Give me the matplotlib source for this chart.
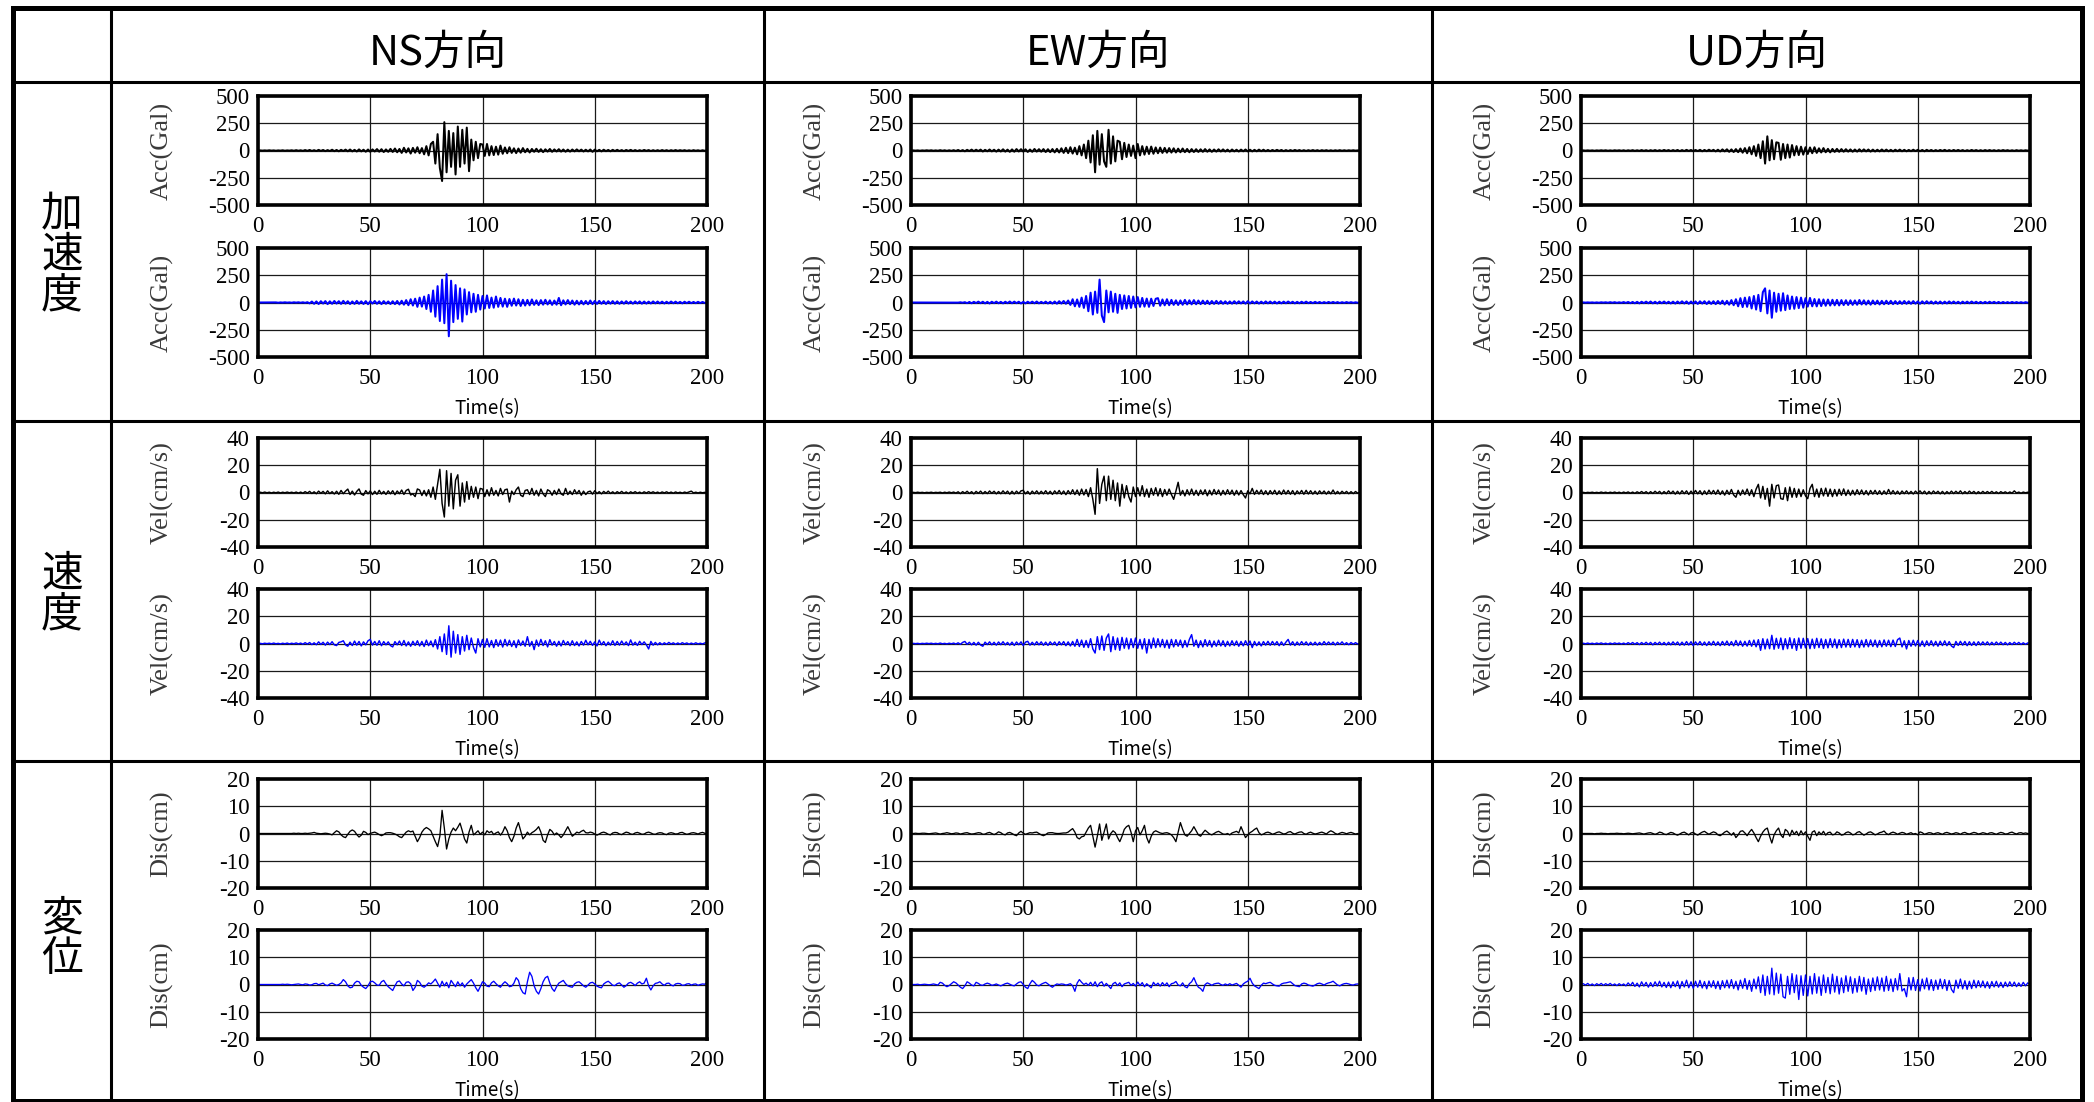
import numpy as np
import matplotlib
matplotlib.use("Agg")
import matplotlib.pyplot as plt
from matplotlib.lines import Line2D

plt.rcParams["axes.unicode_minus"] = False

# ---------------- data (sampled every 1 s, 0..200 s) ----------------
time_s = np.arange(0, 201)

directions = ["NS方向", "EW方向", "UD方向"]
quantities = ["加速度", "速度", "変位"]
ylabels = ["Acc(Gal)", "Vel(cm/s)", "Dis(cm)"]
ylims = [500, 40, 20]
yticks = [[-500, -250, 0, 250, 500], [-40, -20, 0, 20, 40], [-20, -10, 0, 10, 20]]
xticks = [0, 50, 100, 150, 200]
xlabel = "Time(s)"

acc_ns_obs = [0,1,-1,1,-1,2,-1,1,-2,1,-1,2,-2,1,-1,2,-2,3,-2,2,
    -3,4,-3,5,-4,3,-5,6,-4,5,-6,4,-5,7,-6,5,-7,6,-5,8,
    -7,9,-8,6,-9,10,-8,7,-11,9,-12,10,-9,13,-11,12,-14,10,-12,15,
    -13,18,-16,14,-22,25,-18,20,-28,24,-20,30,-25,22,-35,40,-45,60,80,-120,
    150,-160,-280,260,-200,180,-150,160,-220,220,-150,190,-120,210,-190,100,-90,80,-70,60,
    55,-50,60,-45,40,-42,35,-38,45,-30,28,-25,30,-22,20,-24,18,-20,22,-16,
    15,-18,14,-12,16,-13,12,-15,11,-10,14,-12,10,-9,12,-10,9,-11,8,-10,
    9,-8,10,-7,8,-9,7,-8,9,-12,8,-7,6,-8,7,-6,5,-7,6,-5,
    6,-5,4,-6,5,-4,6,-5,4,-5,3,-4,5,-3,4,-5,3,-4,3,-4,
    4,-3,3,-4,3,-3,4,-3,3,-2,3,-3,2,-3,3,-2,2,-3,2,-2,
    0]
acc_ns_sim = [0,0,1,-1,1,-1,1,-1,1,-2,1,-1,2,-1,1,-2,2,-1,2,-2,
    2,-3,3,-8,9,-12,10,-14,12,-10,13,-15,11,-12,14,-10,12,-13,15,-11,
    12,-14,10,-13,15,-12,11,-14,13,-16,12,-10,14,-12,11,-15,13,-12,10,-14,
    12,-15,14,-18,16,-20,22,-25,30,-28,35,-40,45,-38,55,-60,70,-85,110,-130,
    150,-170,210,-190,260,-310,200,-180,160,-150,130,-175,120,-110,95,-90,80,-85,70,-65,
    60,-55,65,-50,45,-48,55,-40,42,-38,35,-40,32,-30,36,-28,30,-32,25,-28,
    24,-26,28,-22,20,-24,22,-20,25,-18,20,-22,18,-20,42,-25,20,-18,22,-16,
    18,-20,16,-18,15,-17,14,-16,18,-15,14,-13,15,-12,13,-14,12,-11,13,-12,
    11,-12,10,-11,12,-10,9,-11,10,-9,10,-11,9,-10,8,-9,10,-8,9,-8,
    8,-9,7,-8,9,-7,8,-7,6,-8,7,-6,7,-6,5,-6,6,-5,5,-4,
    0]
acc_ew_obs = [0,1,-1,1,-2,1,-1,2,-1,2,-2,1,-2,3,-2,2,-3,2,-3,3,
    -4,5,-6,4,-7,6,-5,8,-6,7,-5,8,-9,6,-7,9,-8,7,-10,8,
    -9,11,-10,8,-12,10,-11,13,-9,12,-10,11,-13,9,-12,14,-10,12,-11,13,
    -14,12,-15,13,-17,15,-18,20,-22,25,-24,30,-28,26,-35,40,-45,55,-70,90,
    -110,140,-200,180,-130,150,-100,-150,190,-120,130,-100,90,80,-80,70,-60,55,-50,45,
    -70,60,-45,40,-38,35,-32,36,-30,28,-25,27,-22,24,-20,22,-19,20,-18,17,
    -16,18,-15,14,-16,13,-14,12,-13,11,-12,13,-11,10,-12,9,-10,11,-9,10,
    -9,8,-10,9,-8,7,-9,8,-7,9,-8,7,-8,6,-7,8,-6,7,-6,5,
    -6,5,-5,6,-4,5,-6,4,-5,4,-4,5,-3,4,-4,3,-4,3,-3,4,
    -3,3,-4,3,-2,3,-3,2,-3,2,-2,3,-2,2,-2,2,-1,2,-1,1,
    0]
acc_ew_sim = [0,0,1,-1,0,1,-1,1,-1,0,1,-1,1,-1,1,-1,1,-1,1,-1,
    1,-1,2,-2,3,-6,5,-7,6,-5,8,-6,7,-8,6,-9,7,-6,8,-7,
    6,-8,7,-6,9,-7,8,-6,7,-9,6,-8,7,-6,8,-7,9,-8,6,-7,
    8,-9,7,-10,9,-11,12,-10,14,-12,18,-22,30,-35,28,-40,45,-50,60,-80,
    90,-110,100,-95,210,-120,-180,110,-90,100,-85,80,-95,70,-60,65,-55,60,-50,55,
    -45,50,-40,42,-38,36,-40,35,-32,34,40,-30,28,-26,30,-25,24,-22,20,-23,
    19,-21,24,-18,20,-17,22,-16,18,-15,17,-14,16,-15,14,-13,15,-12,13,-12,
    11,-12,10,-11,12,-10,11,-9,10,-11,12,-9,10,-8,9,-10,8,-9,10,-8,
    9,-8,8,-9,7,-8,8,-7,9,-6,7,-8,6,-7,7,-6,8,-6,5,-6,
    6,-5,5,-6,4,-5,5,-4,5,-4,4,-5,3,-4,4,-3,3,-3,2,-2,
    0]
acc_ud_obs = [0,1,-1,1,-1,1,-2,1,-1,2,-1,2,-2,1,-2,2,-1,2,-2,2,
    -3,2,-2,3,-3,2,-3,4,-3,3,-4,3,-3,4,-4,3,-4,5,-3,4,
    -5,4,-4,5,-6,4,-5,6,-4,5,-6,5,-5,6,-7,5,-6,7,-5,6,
    -8,7,-9,10,-8,11,-12,10,-14,13,-15,18,-20,22,-25,30,-35,40,-50,55,
    -70,85,-120,130,-90,95,-80,75,70,-85,60,-70,55,-65,50,-45,40,-42,35,-38,
    30,-32,28,-25,30,-22,20,-18,22,-16,15,-17,14,-13,15,-12,13,-11,12,-10,
    10,-11,9,-10,11,-9,10,-8,9,-10,8,-9,7,-8,9,-7,8,-7,6,-8,
    7,-6,8,-7,6,-7,5,-6,7,-5,6,-6,5,-7,6,-5,5,-6,4,-5,
    5,-4,6,-5,4,-5,5,-4,5,-4,4,-5,3,-4,5,-3,4,-4,3,-4,
    4,-3,4,-3,3,-4,3,-3,4,-2,3,-3,2,-3,3,-2,2,-2,2,-1,
    0]
acc_ud_sim = [0,1,-1,1,-1,1,-2,1,-2,2,-1,2,-2,3,-2,3,-3,2,-3,4,
    -4,5,-6,5,-7,6,-8,7,-6,8,-7,9,-8,7,-9,8,-7,9,-8,7,
    -9,8,-10,9,-8,11,-9,10,-12,9,-11,10,-13,11,-10,12,-14,11,-13,12,
    -15,14,-13,16,-18,15,-20,22,-25,30,-35,40,-42,45,-40,50,-55,60,-65,70,
    -80,95,130,-100,110,-140,90,-85,80,-75,85,-70,65,-60,55,-58,50,-52,45,-48,
    40,-38,42,-35,32,-36,30,-33,28,-30,27,-28,25,-26,24,-27,22,-24,21,-23,
    20,-22,19,-21,23,-18,20,-19,17,-20,18,-16,17,-18,15,-16,16,-14,15,-15,
    13,-14,12,-13,14,-12,11,-12,13,-11,10,-12,11,-10,12,-9,10,-11,9,-10,
    9,-10,8,-9,10,-8,9,-8,7,-9,8,-7,8,-7,9,-6,7,-7,6,-7,
    6,-6,7,-5,6,-6,5,-6,5,-5,4,-5,5,-4,4,-4,3,-4,3,-2,
    0]

vel_ns_obs = [0,0.2,-0.2,0.3,-0.2,0.2,-0.3,0.2,-0.2,0.3,-0.3,0.2,-0.2,0.3,-0.2,0.2,-0.3,0.3,-0.4,0.3,
    -0.5,0.6,-0.4,0.8,-0.7,0.5,-0.9,1.0,-0.6,0.8,-1.0,1.2,-0.8,0.6,-1.1,0.9,-1.3,1.5,-0.9,1.0,
    2.5,-1.5,1.0,-1.8,0.8,2.6,-1.2,-2.0,1.4,-1.0,1.2,-1.5,0.9,-1.3,1.6,-1.1,0.8,-1.4,1.2,-1.0,
    1.3,-1.6,1.1,-0.9,1.8,-1.4,1.5,2.4,-1.8,-1.0,-3.0,2.6,1.8,-2.2,1.5,-2.5,2.0,-3.5,4.0,-5.0,
    6.0,17.0,-8.0,-18.0,16.0,-10.0,14.0,-12.0,9.0,13.0,-10.0,7.0,-7.0,8.0,-5.0,4.5,-3.5,4.0,-4.5,3.0,
    2.5,-3.0,2.0,-2.5,3.5,-2.0,1.5,-2.5,3.0,-1.5,2.0,2.5,-7.0,1.0,-1.5,2.0,4.0,-2.0,-3.0,1.5,
    2.0,-1.5,3.0,-2.0,1.5,-2.5,2.5,-1.0,-3.0,2.0,1.0,-2.0,1.5,-1.5,2.5,-1.0,-2.0,3.0,-1.5,1.0,
    -1.5,2.0,-1.0,1.5,-2.0,1.0,-1.5,0.5,1.0,-1.2,1.3,-0.8,0.6,-1.0,0.8,-0.6,1.0,-0.7,0.5,-0.8,
    0.6,-0.5,0.8,-0.6,0.4,-0.7,0.5,-0.4,0.6,-0.5,0.3,-0.6,0.5,-0.4,0.6,-0.3,0.5,-0.4,0.3,-0.5,
    0.4,-0.3,0.5,-0.4,0.3,-0.5,0.4,-0.3,0.2,-0.4,0.3,-0.2,0.4,1.0,-0.3,0.2,-0.3,0.2,-0.2,0.1,
    -0.2]
vel_ns_sim = [0,0.1,-0.2,0.2,-0.1,0.2,-0.2,0.3,-0.2,0.1,-0.3,0.2,-0.2,0.3,-0.3,0.2,-0.2,0.4,-0.3,0.3,
    -0.5,0.6,-0.4,0.7,-0.8,0.5,-0.9,1.2,-0.7,0.9,-1.2,1.0,-0.8,1.3,-1.0,-1.5,0.8,1.2,2.0,-1.0,
    -2.0,1.0,-1.5,1.8,-1.2,1.5,-1.8,1.2,-1.0,2.0,3.0,-1.2,1.5,-1.3,2.0,-1.6,1.4,-1.0,1.2,-1.5,
    -2.5,1.4,-1.0,1.8,-1.5,2.2,-1.8,1.2,-2.0,1.6,-1.4,2.0,-1.8,1.5,-2.2,2.5,-1.6,1.8,-2.4,2.8,
    -4.0,5.0,-6.0,7.0,-8.0,13.0,-10.0,9.0,-7.0,6.5,-8.0,5.0,-5.5,6.0,-4.5,4.0,-3.0,-7.0,3.5,-2.5,
    3.0,-2.8,3.5,-2.5,2.2,-3.0,2.8,-2.0,2.5,-2.6,3.0,-1.8,2.4,-2.2,2.0,-3.0,2.6,-1.5,1.8,-2.0,
    5.0,-2.0,1.5,-4.5,2.5,-2.0,3.0,-1.5,2.0,-2.5,2.8,-1.2,1.5,-2.0,1.6,-1.8,2.2,-1.0,1.4,-1.6,
    2.0,-1.5,1.2,-1.8,1.5,-1.2,2.4,-1.0,1.6,-1.4,1.2,-1.8,2.5,-1.0,1.4,-1.6,1.0,-1.2,2.0,-1.4,
    1.5,-1.2,1.8,-1.0,1.2,-1.5,2.6,-1.2,1.0,-1.4,1.6,-0.8,1.2,-1.0,-4.0,1.5,-1.2,0.8,-1.0,0.6,
    -0.8,0.5,-0.6,0.8,-0.4,0.5,-0.6,0.4,-0.5,0.6,-0.3,0.4,-0.5,0.3,-0.4,0.5,-0.3,0.2,-0.3,0.4,
    1.0]
vel_ew_obs = [0,0.1,-0.1,0.2,-0.1,0.1,-0.2,0.1,-0.1,0.2,-0.2,0.1,-0.1,0.2,-0.3,0.2,-0.2,0.3,-0.2,0.3,
    -0.4,0.5,-0.8,0.6,-0.5,0.9,-0.7,0.6,-1.0,0.8,-0.6,1.0,-0.9,0.7,-0.8,1.1,-0.6,0.9,-1.0,0.7,
    -0.9,1.2,-0.8,1.0,-1.2,0.9,-1.1,1.0,-0.8,1.2,1.6,-1.0,0.8,-1.3,1.0,-0.9,1.2,-1.1,0.9,-1.0,
    1.3,-1.1,0.9,-1.4,1.2,-1.0,1.5,-1.3,1.1,-1.6,1.4,-1.2,2.0,-1.5,1.8,-2.0,2.5,-1.8,2.2,-3.0,
    3.5,-5.0,-16.0,17.5,-8.0,6.0,12.0,-6.0,12.0,-5.0,9.0,-6.0,7.0,-10.0,6.0,-4.0,5.0,-3.0,-7.0,4.0,
    -3.0,3.5,-2.5,5.0,-3.0,2.5,-3.5,3.0,-2.0,3.5,-2.5,2.8,-3.0,2.2,-2.0,2.5,-1.5,-5.0,1.0,7.5,
    -2.0,1.5,-2.5,2.0,-1.8,2.5,-2.0,1.6,-2.2,1.8,-1.5,2.0,-2.4,1.6,-1.8,2.2,-1.4,1.8,-2.0,1.5,
    -1.6,2.0,-1.4,1.7,-2.0,1.5,-1.8,1.4,-1.6,-4.0,1.2,-1.0,3.0,-1.4,1.6,-1.2,1.8,-1.5,1.3,-1.6,
    1.4,-1.2,1.6,-1.5,1.2,-1.4,1.8,-1.2,1.5,-1.3,1.4,-1.6,1.2,-1.0,1.5,-1.3,1.6,-1.1,1.3,-1.2,
    1.0,-1.3,1.2,-0.9,1.1,-1.2,0.9,-1.0,1.8,-1.1,0.8,-1.0,0.9,-0.7,0.8,-0.9,0.6,-0.8,0.7,-0.5,
    0.3]
vel_ew_sim = [0,0.1,-0.1,0.1,-0.2,0.1,-0.1,0.2,-0.1,0.2,-0.2,0.1,-0.2,0.3,-0.2,0.1,-0.3,0.2,-0.2,0.3,
    -0.4,0.5,-0.6,0.8,1.5,-0.6,0.9,-1.0,0.8,-1.2,0.9,-1.1,-2.0,1.0,-0.8,1.2,-1.0,0.9,-1.2,1.1,
    -0.9,1.3,-1.0,0.8,-1.2,1.0,-1.4,1.1,-0.9,1.2,-1.5,1.0,1.6,-1.2,0.9,-1.1,1.3,-1.0,1.2,-1.3,
    1.0,-1.4,1.2,-0.9,1.1,-1.5,1.3,-1.0,1.4,-1.6,1.2,-1.8,1.5,-2.0,3.0,-2.2,2.5,-2.8,2.2,-3.0,
    3.5,-4.0,-7.0,5.0,-4.5,5.5,-5.0,4.0,7.0,-6.0,5.0,-4.5,4.0,-5.0,4.5,-3.5,4.0,-4.0,3.5,-3.0,
    4.0,-3.5,3.0,-4.0,3.5,-7.0,3.0,-3.5,4.0,-3.0,3.5,-2.5,3.0,-3.0,2.5,-3.5,3.0,-2.5,2.8,-2.0,
    2.5,-3.0,2.2,-2.5,3.0,6.5,-2.0,2.5,-3.0,2.0,-2.5,2.8,-2.0,2.2,-2.6,1.8,-2.0,2.4,-1.8,2.0,
    -2.2,1.6,-1.8,2.0,-1.5,1.8,-2.0,1.5,-1.7,2.0,-1.4,1.8,-3.0,1.5,-1.6,1.2,-1.8,1.4,-1.2,1.6,
    -1.3,1.5,-1.1,1.4,-1.6,1.2,-1.4,1.0,3.0,-1.2,1.3,-1.5,1.1,-1.2,1.4,-1.0,1.2,-1.3,0.9,-1.1,
    1.0,-1.2,0.8,-1.0,1.4,-0.9,1.1,-0.8,1.0,-1.1,0.9,-0.7,1.2,-0.8,0.6,-0.9,0.7,-0.5,0.6,-0.4,
    0.2]
vel_ud_obs = [0,0.1,-0.2,0.1,-0.1,0.2,-0.2,0.1,-0.2,0.3,-0.2,0.2,-0.3,0.2,-0.2,0.3,-0.3,0.2,-0.4,0.3,
    -0.3,0.4,-0.5,0.3,-0.6,0.5,-0.4,0.7,-0.5,0.6,-0.8,0.6,-0.7,0.9,-0.6,0.8,-1.0,0.7,-0.9,1.2,
    -0.8,1.0,-1.2,0.9,-1.1,1.3,-0.9,1.2,-1.4,1.0,-1.2,1.5,-1.0,1.3,-1.6,1.2,-1.4,1.7,-1.1,1.5,
    -1.3,1.8,-1.5,1.2,-1.9,1.6,-1.4,2.2,-1.8,-3.5,1.6,-2.0,1.8,-1.5,2.5,-2.2,2.0,-3.0,2.5,6.0,
    -4.0,4.5,-5.0,3.0,-10.0,6.0,-4.0,5.0,5.5,-4.5,-5.0,3.5,-6.0,4.0,-3.5,3.0,-3.5,2.5,-3.0,2.0,
    -2.5,-4.5,3.0,6.0,-3.0,2.5,-3.5,3.0,-2.5,3.2,-2.8,2.5,-3.0,2.2,-2.6,2.4,-2.0,2.6,-2.2,1.8,
    -2.0,1.6,-1.8,2.0,-1.5,1.8,-1.6,1.4,-1.8,1.5,-1.2,1.6,-1.4,1.3,-1.5,1.2,-1.3,2.2,-1.2,1.4,
    -1.2,1.0,-1.3,1.1,-0.9,1.2,-1.0,0.8,-1.1,1.0,-0.8,1.2,-0.9,1.0,-1.2,0.8,-1.0,1.1,-0.7,0.9,
    -1.0,0.8,-1.1,0.7,-0.9,1.0,-0.8,0.9,-0.7,1.2,-0.9,0.7,-0.8,1.0,-0.6,0.8,-0.9,0.6,-0.7,0.8,
    -0.6,0.7,-0.5,0.8,-0.6,0.5,-0.7,0.6,-0.4,0.5,-0.6,0.4,-0.5,1.2,-0.4,0.3,-0.5,0.3,-0.2,0.2,
    0]
vel_ud_sim = [0,0.2,-0.2,0.3,-0.2,0.2,-0.3,0.3,-0.2,0.4,-0.3,0.2,-0.4,0.3,-0.3,0.4,-0.2,0.3,-0.4,0.3,
    -0.5,0.6,-0.4,0.7,-0.5,0.6,-0.8,0.7,-0.6,0.9,-0.7,0.8,-1.0,0.8,-0.7,1.0,-0.9,0.8,-1.1,0.9,
    -1.0,1.2,-0.9,1.1,-1.3,1.0,-1.2,1.4,-1.1,1.3,-1.5,1.2,-1.0,1.4,-1.3,1.1,-1.5,1.3,-1.2,1.6,
    -1.4,1.2,-1.6,1.5,-1.3,1.8,-1.5,1.4,-1.7,2.2,-1.6,1.8,-2.0,1.6,-1.9,2.2,-2.0,2.5,-2.4,2.8,
    -5.0,3.5,-4.0,3.2,-3.8,6.0,-4.2,3.8,-3.5,4.0,-4.5,3.5,-3.8,4.2,-3.6,3.5,-5.0,4.0,-3.5,3.8,
    -3.2,3.6,-3.8,3.2,-3.5,3.8,-3.0,3.4,-3.6,3.0,-3.2,3.5,-2.8,3.2,-3.4,2.8,-3.0,3.2,-2.6,3.0,
    -2.8,3.0,-2.5,2.8,-3.0,2.4,-2.6,2.9,-2.4,2.6,-2.2,2.5,-2.7,2.2,-2.4,2.6,-2.0,2.4,-2.3,2.5,
    -2.2,2.8,4.0,-2.5,2.0,-4.0,2.2,-2.0,2.4,-1.8,2.2,-2.0,1.8,-2.2,1.9,-1.6,2.0,-1.8,1.6,-2.0,
    1.7,-1.5,1.9,-1.6,1.4,-1.8,-3.0,1.5,-1.4,1.6,-1.2,1.5,-1.6,1.3,-1.4,1.2,-1.5,1.3,-1.1,1.2,
    -1.0,1.2,-1.1,0.9,-1.0,1.1,-0.8,1.0,-0.9,0.8,-1.0,0.7,-0.8,0.9,-0.6,0.8,-0.7,0.5,-0.6,0.4,
    0.3]

dis_ns_obs = [0,0,0,0,0,0,0,0,0,0,0,0,0,0,0,0,0.1,0,0.1,0,
    0,0.1,0,0.1,0.2,0.4,0.1,0,-0.1,0,0.1,0,-0.2,-0.5,0.3,1.0,0.6,-0.5,-1.2,-1.5,
    -0.3,0.8,1.3,0.8,-0.4,-1.3,-0.6,0.8,0.4,-0.4,0,0.3,0.5,0.1,-0.4,-0.8,-0.4,0.2,0.3,0.3,
    0.1,-0.2,-0.6,-1.2,-1.5,-0.5,0.5,1.0,0.6,0.9,-1.0,-3.0,-1.5,0.5,1.6,2.2,1.7,1.0,-1.0,-3.0,
    -4.8,-1.0,8.5,2.0,-5.7,-2.0,0.5,2.0,1.0,2.3,3.8,1.0,-2.0,-3.5,0.5,3.0,-0.5,0.2,1.0,-0.3,
    0.5,-0.5,1.0,0.3,0.8,-0.4,0.2,0.6,-0.6,0.5,2.5,1.0,-1.5,-3.0,-1.0,2.0,4.0,1.0,-2.0,-1.0,
    0.5,-0.5,0.3,0.8,1.5,2.5,0.5,-2.5,-3.3,-0.5,1.5,0.8,-0.5,0.2,-0.5,-1.5,-0.5,1.0,2.5,0.8,
    -1.0,-0.3,0.5,0.2,0.8,1.2,0.3,0.2,0.5,0.3,-0.2,-0.6,-0.2,0.3,0.5,0.2,-0.3,-0.5,0.2,0.4,
    0.3,-0.2,-0.4,0.1,0.5,0.3,-0.2,-0.3,0.2,0.4,0.1,-0.3,-0.2,0.3,0.5,0.2,-0.2,-0.3,0.1,0.3,
    0.2,-0.2,-0.4,0.1,0.3,0.1,-0.2,-0.1,0.3,0.4,0,-0.3,-0.1,0.2,0.3,0.1,-0.2,0.2,0.4,0.1,
    -0.3]
dis_ns_sim = [0,0,0,0,0,0,0,0,0,0,0,0.1,0,0.1,0,-0.1,0,0.1,0.2,0,
    -0.1,0.2,0.1,-0.2,-0.1,0.3,0.4,-0.1,0.2,0.5,-0.2,-0.4,0.2,0.5,0.1,-0.3,0,0.6,1.8,1.0,
    -0.5,-1.2,-1.0,0.5,1.2,1.0,-0.3,-1.0,-1.5,-0.5,1.0,1.2,0.6,-0.2,-0.3,1.0,1.5,0.2,-0.8,-1.5,
    -2.2,-0.5,1.0,1.3,0.2,-0.5,0.8,1.0,0.3,-2.2,-1.0,1.5,0.8,-0.6,-1.0,-0.3,0.6,0.2,1.0,2.0,
    0.5,-1.0,1.2,-0.5,0.8,-1.2,1.5,0.3,-0.8,1.0,-0.5,0.6,-1.0,0.2,1.0,1.8,0.5,-1.2,-2.5,-0.8,
    1.0,0.5,-0.6,-0.8,0.6,1.2,0.3,-0.5,-1.0,0.2,1.0,0.3,-0.8,-0.6,0.5,2.5,1.5,-1.5,-3.0,-3.5,
    1.0,4.5,3.0,-0.5,-2.5,-3.5,-1.5,1.0,2.5,3.0,0.5,-1.5,-2.5,-0.8,0.5,1.0,1.5,0.3,-0.5,-0.8,
    -1.0,0.2,0.8,1.0,0.3,-0.5,-1.0,-0.2,0.6,0.8,0.2,-0.6,-1.0,-1.2,0.2,0.8,1.2,0.5,-0.3,-0.4,
    0.3,0.6,-0.2,-1.0,-0.4,0.5,0.8,0.3,-0.4,0.5,1.0,0.2,0.5,2.3,-0.5,-2.0,-0.5,0.4,0.6,1.0,
    0.2,-0.3,0.4,0.5,-0.2,-0.5,0.2,0.4,0.3,-0.3,-0.2,0.2,0.3,-0.2,0.1,0.2,-0.3,0,0.2,0.1,
    0.8]
dis_ew_obs = [0,0,0.1,0,0,0.1,0.1,0,-0.1,0,0.1,0.2,0,-0.2,0,0.1,0.3,0.1,-0.1,0,
    0.2,0.1,-0.2,0,0.2,0.3,0,-0.2,-0.1,0.1,0.3,0.2,-0.3,-0.2,0.2,0.4,0,-0.4,0,0.6,
    0.3,-0.3,-0.5,0.2,0.4,0,-0.5,-0.8,0.2,0.8,0.1,-0.3,0,0.3,0.2,0.4,0.5,0,-0.5,-0.8,
    -0.4,0.2,0.3,0.3,0.1,0,0,0.1,0.2,0.2,0.5,1.2,1.8,0.5,-1.5,-2.0,-1.2,-1.0,0.5,2.0,
    3.0,-1.0,-5.0,-1.0,3.5,-2.5,0.5,3.5,-2.0,0,1.0,0.3,-1.5,-3.0,-1.0,1.5,2.5,3.0,0.5,-3.0,
    1.0,2.2,-0.5,1.0,3.0,-1.5,-3.5,-1.0,0.5,1.0,0.6,0.2,0,0.2,0.3,0,-0.5,-1.5,-3.0,0.5,
    4.0,1.5,-0.5,-1.0,0,1.0,2.5,1.0,-0.5,-1.0,0.2,1.2,0.5,-0.2,-0.5,0,0.5,0.8,0.3,-0.2,
    -0.3,0,-0.5,0.2,0.5,0.8,0.2,2.5,0.5,-1.5,-0.5,0.3,0.8,1.5,2.0,0.3,-0.5,-0.2,0.3,0.5,
    0.2,-0.3,0,0.4,0.6,0.2,-0.2,0,0.5,0.7,0.1,-0.2,0.2,0.5,0.6,0,-0.3,0.2,0.5,0.1,
    -0.2,0,0.3,0.5,0.2,-0.2,0.5,1.0,0.6,0,-0.3,0.1,0.4,0.2,-0.1,0.2,0.4,0.1,-0.2,0,
    -0.3]
dis_ew_sim = [0,0,0,0.1,-0.1,0,0.1,0,-0.1,0,0.2,0,-0.2,0.8,0.5,-0.3,-0.8,-0.4,0.3,1.0,
    0.6,-0.2,-1.0,-1.5,-0.5,1.0,0.5,-0.2,-0.5,0.8,0.4,-0.2,-0.3,0.2,0.5,0.2,-0.3,-0.1,0.2,-0.2,
    -0.5,-0.1,0.3,0.5,0.1,-0.3,-0.5,0.2,0.8,1.0,0,-1.0,-1.5,0.3,1.5,0.8,-0.2,-0.5,0.1,0.5,
    0.8,0.2,-0.5,-1.0,-0.3,0.2,0,0.2,0.1,-0.2,0,0.3,-0.5,-2.5,0.5,1.8,0.8,0,0.5,-0.3,
    0.8,-0.5,1.0,-0.8,0.5,1.0,-0.6,0.4,-0.5,-1.5,0.3,0.8,-0.4,0.6,-0.8,0.2,0.5,0.8,-0.3,0.4,
    -0.6,0.9,-0.4,0.7,-0.8,0.3,-0.5,-1.2,0.8,-0.3,0.5,-0.6,0.7,-0.4,0.6,-0.8,0.3,0.5,1.1,-0.2,
    -0.5,0.6,-0.8,-1.2,0.3,1.0,2.5,0.5,-1.0,-1.5,-2.5,0,0.6,0.2,-0.3,0.2,0.4,0.5,0,-0.3,
    0.2,-0.2,0.3,-0.2,0.1,0.4,-0.3,-1.0,0.2,0.8,1.2,2.3,0.5,-0.5,-1.0,-1.5,-0.3,0.5,0.3,0.6,
    0.8,0.2,-0.3,-0.5,-0.6,0.2,0.5,0.6,0.8,1.0,0.3,-0.4,-0.6,-0.8,0.2,0.5,0.3,-0.2,-0.4,-0.6,
    -0.2,0.3,0.5,0.2,-0.2,0.3,0.6,0.8,1.2,0.5,-0.2,-0.5,0,0.3,0.4,0.2,-0.1,-0.2,0.1,0.2,
    0]
dis_ud_obs = [0,0,0,0,0,0,-0.1,0,0,0.1,0,0,-0.1,0,0,0,0.1,0,0,-0.1,
    0,0.1,0,-0.1,0,0.1,0.2,0,-0.2,0,0.2,0.3,0,-0.3,0,0.5,0.3,-0.2,-0.4,0,
    0.4,0.2,-0.3,-0.6,-0.2,0.3,0.5,0,-0.5,0.2,0.4,-0.2,-0.6,0,0.5,0.8,0.2,-0.3,0.2,0.6,
    0.3,-0.5,-0.8,-0.2,0.5,0.9,0.2,-0.6,0.3,-1.5,-0.5,0.8,1.0,0.2,-0.8,0.5,1.5,0.2,-1.5,-3.0,
    -1.0,0.5,1.5,2.0,-1.0,-3.5,-0.5,1.0,2.0,-0.5,-1.5,1.5,0.8,-1.0,1.2,-0.3,0.8,-0.8,1.0,-0.5,
    0.6,-1.0,-2.5,0.5,1.0,-0.8,0.6,-0.4,0.8,-0.6,0.3,0.5,-0.5,-0.3,0.6,0.2,-0.6,-0.4,0.3,0.6,
    0.2,-0.5,-0.3,0.4,0.7,0,-0.6,-0.2,0.4,0.6,0.1,-0.5,-0.2,0.3,0.5,0.9,0,-0.4,0.2,0.5,
    0.2,-0.3,0.1,0.4,0.2,-0.3,0,0.3,-0.2,0,-0.5,0.6,0.3,-0.3,0,0.3,0.2,-0.2,0.1,0.3,
    0,-0.3,0.2,0.4,0.1,-0.2,0,0.3,0.1,-0.3,0.2,0.4,0,-0.2,0.1,0.4,0.2,-0.2,0,0.3,
    0.1,-0.2,0.2,0.3,0,-0.3,0.1,0.4,0.2,-0.2,-0.1,0.3,0.5,0.1,-0.2,0.2,0.3,0,0.2,0,
    -0.3]
dis_ud_sim = [0,0.3,-0.2,0.4,-0.3,0.2,-0.4,0.3,-0.2,0.4,-0.3,0.3,-0.2,0.4,-0.3,0.2,-0.4,0.3,-0.3,0.2,
    -0.5,0.6,-0.4,0.8,-0.7,0.5,-0.9,1.0,-0.6,0.8,-1.0,0.7,-0.8,1.0,-0.6,1.2,-0.9,0.8,-1.1,0.9,
    -1.2,1.0,-0.8,1.3,-1.5,1.1,-0.9,1.6,-1.2,1.0,-1.4,1.2,-1.0,1.5,-1.3,1.1,-1.6,1.3,-1.0,1.4,
    -1.5,1.2,-1.8,1.4,-1.2,1.6,-1.3,1.8,-1.5,1.2,-2.0,1.6,-1.4,2.2,-1.8,1.5,-2.5,2.0,-1.6,2.8,
    -3.0,3.5,-4.0,3.0,-3.5,6.0,-3.8,4.2,-3.2,3.8,-4.5,-5.0,3.0,-3.6,4.0,-3.0,3.5,-5.5,3.2,-4.0,
    3.5,-4.2,3.0,-3.5,4.0,-3.2,2.8,-4.0,3.5,-3.0,2.6,-3.4,3.8,-2.8,3.0,-3.5,2.4,-3.0,3.2,-2.5,
    2.8,-3.2,2.2,-2.8,3.0,-2.4,2.6,-3.6,2.0,-2.6,2.4,-2.2,2.8,-2.0,2.4,-2.5,3.0,-2.2,2.0,-2.6,
    2.2,-2.0,4.0,-2.4,-1.5,-4.5,2.5,-2.0,2.6,-2.2,1.8,-2.4,2.0,-1.6,2.4,-2.0,1.8,-2.2,1.6,-1.8,
    2.0,-1.5,1.8,-2.2,1.5,-1.8,-3.0,1.6,-1.4,2.0,-1.6,1.4,-1.8,1.2,-1.5,1.6,-1.2,1.4,-1.0,1.3,
    -1.2,1.0,-1.4,1.1,-0.9,1.2,-1.0,0.8,-1.1,0.9,-0.8,1.0,-0.7,0.9,-0.8,0.6,-0.7,0.8,-0.5,0.6,
    0]

series = {
    (0, 0): (acc_ns_obs, acc_ns_sim), (0, 1): (acc_ew_obs, acc_ew_sim), (0, 2): (acc_ud_obs, acc_ud_sim),
    (1, 0): (vel_ns_obs, vel_ns_sim), (1, 1): (vel_ew_obs, vel_ew_sim), (1, 2): (vel_ud_obs, vel_ud_sim),
    (2, 0): (dis_ns_obs, dis_ns_sim), (2, 1): (dis_ew_obs, dis_ew_sim), (2, 2): (dis_ud_obs, dis_ud_sim),
}

# ---------------- layout ----------------
W, H = 2094, 1102
fig = plt.figure(figsize=(W / 100, H / 100), dpi=100)
fig.patch.set_facecolor("white")

SERIF = "Liberation Serif"
CJK = ["Noto Sans CJK JP", "DejaVu Sans"]

col_left = [258, 911, 1581]
ax_w = 449
panel_tops = [(96, 248), (438, 589), (779, 930)]
ax_h = 109
trace_lw = [1.45, 1.05, 0.95]


def fig_rect(x, y, w, h):
    return [x / W, 1 - (y + h) / H, w / W, h / H]


for q in range(3):
    for c in range(3):
        for k in range(2):
            ax = fig.add_axes(fig_rect(col_left[c], panel_tops[q][k], ax_w, ax_h))
            vals = series[(q, c)][k]
            color = "black" if k == 0 else "#0000FF"
            ax.plot(time_s, vals, color=color, lw=trace_lw[q], zorder=3)
            ax.set_xlim(0, 200)
            ax.set_ylim(-ylims[q], ylims[q])
            ax.set_xticks(xticks)
            ax.set_yticks(yticks[q])
            ax.grid(True, color="#1a1a1a", lw=0.9)
            ax.set_axisbelow(True)
            ax.tick_params(length=0, labelsize=16.5)
            ax.tick_params(axis="x", pad=8)
            ax.tick_params(axis="y", pad=6)
            for lab in ax.get_xticklabels() + ax.get_yticklabels():
                lab.set_fontfamily(SERIF)
            for sp in ax.spines.values():
                sp.set_linewidth(2.6)
                sp.set_zorder(4)
            ax.set_ylabel(ylabels[q], fontfamily=SERIF, fontsize=19,
                          color="#3a3a3a", va="center")
            ax.yaxis.set_label_coords(-0.214, 0.5)
            if k == 1:
                ax.set_xlabel(xlabel, fontfamily=CJK, fontsize=13.5, va="center")
                ax.xaxis.set_label_coords(0.51, -52 / ax_h)

# ---------------- table lines ----------------
def hline(y, x0, x1, lw):
    fig.add_artist(Line2D([x0 / W, x1 / W], [1 - y / H, 1 - y / H],
                          transform=fig.transFigure, color="black", lw=lw,
                          solid_capstyle="projecting"))


def vline(x, y0, y1, lw):
    fig.add_artist(Line2D([x / W, x / W], [1 - y0 / H, 1 - y1 / H],
                          transform=fig.transFigure, color="black", lw=lw,
                          solid_capstyle="projecting"))


outer = 3.6
inner = 2.2
left, right, top, bottom = 12.5, 2082, 7.5, 1101
for y in [82, 421, 761]:
    hline(y, left, right, inner)
for x in [111, 764, 1432]:
    vline(x, top, bottom, inner)
hline(top, left, right, outer)
hline(bottom, left, right, outer)
vline(left, top, bottom, outer)
vline(right, top, bottom, outer)

# ---------------- headers ----------------
col_bounds = [111, 764, 1432, 2082]
for c, name in enumerate(directions):
    xc = (col_bounds[c] + col_bounds[c + 1]) / 2
    fig.text(xc / W, 1 - 53 / H, name, fontfamily=CJK, fontsize=30,
             ha="center", va="center")

row_bounds = [82, 421, 761, 1110]
for q, word in enumerate(quantities):
    yc = (row_bounds[q] + row_bounds[q + 1]) / 2 + 4
    n = len(word)
    for i, ch in enumerate(word):
        y = yc + (i - (n - 1) / 2) * 41
        fig.text(62 / W, 1 - y / H, ch, fontfamily=CJK, fontsize=30,
                 ha="center", va="center")

fig.savefig("out.png", dpi=100, facecolor="white")
